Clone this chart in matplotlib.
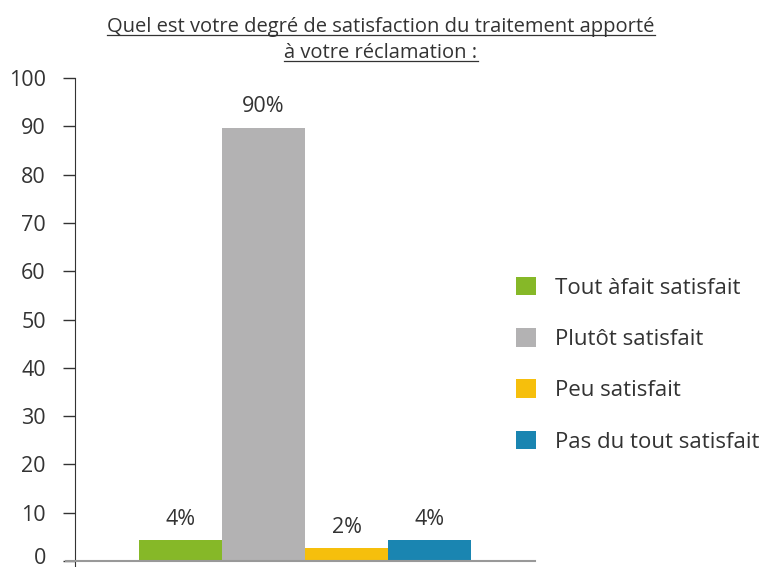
import matplotlib
matplotlib.use("Agg")
import matplotlib.pyplot as plt
from matplotlib.lines import Line2D
from matplotlib.transforms import ScaledTranslation

categories = ["Tout àfait satisfait", "Plutôt satisfait", "Peu satisfait", "Pas du tout satisfait"]
values = [4.3, 89.7, 2.6, 4.3]
labels = ["4%", "90%", "2%", "4%"]
colors = ["#86b828", "#b3b2b3", "#f6bf0c", "#1a85b1"]
yticks = [0, 10, 20, 30, 40, 50, 60, 70, 80, 90, 100]
title_lines = ["Quel est votre degré de satisfaction du traitement apporté", "à votre réclamation :"]

plt.rcParams['font.family'] = ['Open Sans', 'DejaVu Sans']
txt = "#333333"

W, H = 761, 567
fig = plt.figure(figsize=(W / 100, H / 100), dpi=100)
ax = fig.add_axes([66 / W, 0, (535 - 66) / W, (567 - 78) / H])

for s in ["top", "right"]:
    ax.spines[s].set_visible(False)
ax.spines["left"].set_position(("data", -1.271))
ax.spines["left"].set_color("#333333")
ax.spines["bottom"].set_position(("data", 0))
ax.spines["bottom"].set_color("#999999")
ax.spines["bottom"].set_linewidth(1.5)
ax.patch.set_alpha(0)

bars = []
for i, (v, c, cat) in enumerate(zip(values, colors, categories)):
    b = ax.bar(i, v, width=1.0, color=c, label=cat, zorder=2)
    bars.append(b)
    ax.annotate(labels[i], (i, v), xytext=(0, 7.5), textcoords="offset points",
                ha="center", va="bottom", fontsize=15.5, color=txt)

ax.set_xlim(-1.3795, 4.271)
ax.set_ylim(-1.24, 100)
ax.set_yticks(yticks)
ax.set_yticklabels([str(t) for t in yticks], fontsize=15.5, color=txt)
ax.tick_params(axis="y", direction="out", length=9, width=1, color="#333333", pad=12)
ax.set_xticks([])

# nudge the "0" label up slightly so it stays inside the figure
lab0 = ax.yaxis.get_major_ticks()[0].label1
lab0.set_transform(lab0.get_transform() + ScaledTranslation(0, 5 / 100, fig.dpi_scale_trans))

ax.legend(handles=[b[0] for b in bars], labels=categories, frameon=False,
          loc="upper left", bbox_to_anchor=(516 / W, 1 - 277 / H),
          bbox_transform=fig.transFigure, borderpad=0, borderaxespad=0,
          fontsize=16, handlelength=0.9, handleheight=0.9,
          handletextpad=0.85, labelspacing=1.32, labelcolor=txt)

# title with underline
ys = [32, 58]
for line, yb in zip(title_lines, ys):
    t = fig.text(381 / W, 1 - yb / H, line, ha="center", va="baseline",
                 fontsize=14.5, color=txt)
    fig.canvas.draw()
    bb = t.get_window_extent()
    yl = 1 - (yb + 3) / H
    fig.add_artist(Line2D([bb.x0 / W, bb.x1 / W], [yl, yl], transform=fig.transFigure,
                          color=txt, linewidth=0.9))

fig.savefig("out.png", dpi=100)
